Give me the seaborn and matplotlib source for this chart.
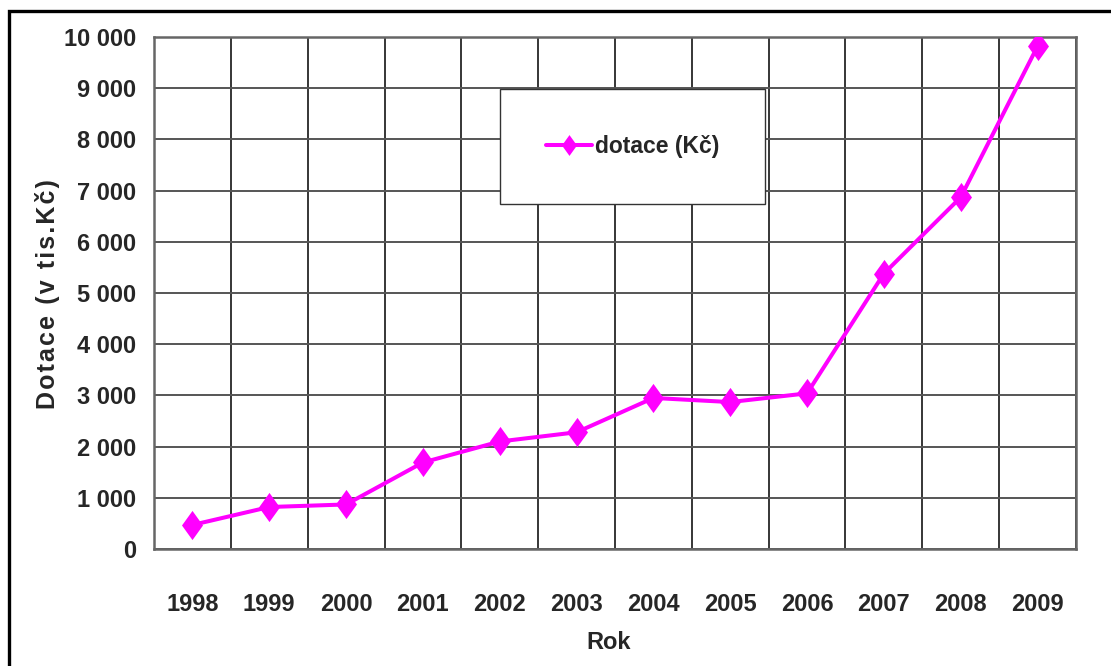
import numpy as np
import pandas as pd
import matplotlib
matplotlib.use("Agg")
import matplotlib.pyplot as plt
import matplotlib.patches as mpatches
from matplotlib.path import Path
import seaborn as sns

# Annual subsidies (thousands CZK)
years = ["1998", "1999", "2000", "2001", "2002", "2003",
         "2004", "2005", "2006", "2007", "2008", "2009"]
dotace = [470, 820, 870, 1690, 2100, 2280, 2950, 2870, 3040, 5380, 6870, 9820]
y_ticks = [0, 1000, 2000, 3000, 4000, 5000, 6000, 7000, 8000, 9000, 10000]
series_label = "dotace (Kč)"
y_title = "Dotace (v tis.Kč)"
x_title = "Rok"

sns.set_theme(style="white")
plt.rcParams["font.family"] = ["Liberation Sans", "DejaVu Sans"]
plt.rcParams["font.weight"] = "bold"

df = pd.DataFrame({"pos": np.arange(len(years)), "rok": years, "dotace": dotace})

fig = plt.figure(figsize=(11.11, 6.66), dpi=100)
ax = fig.add_axes([154 / 1111, 1 - 549 / 666, (1076 - 154) / 1111, (549 - 37) / 666])

# Tall, narrow diamond marker
diamond = Path([(0, 1), (0.72, 0), (0, -1), (-0.72, 0), (0, 1)],
               [Path.MOVETO, Path.LINETO, Path.LINETO, Path.LINETO, Path.CLOSEPOLY])

sns.lineplot(data=df, x="pos", y="dotace", ax=ax, color="#FF00FF", linewidth=2.9,
             marker=diamond, markersize=21, markeredgewidth=0,
             markerfacecolor="#FF00FF", label=series_label, zorder=5)

ax.set_xlim(-0.5, len(years) - 0.5)
ax.set_ylim(0, 10000)

ax.set_xticks(np.arange(len(years)))
ax.set_xticklabels(years)
ax.set_xticks(np.arange(-0.5, len(years), 1), minor=True)
ax.set_yticks(y_ticks)
ax.set_yticklabels([f"{v:,}".replace(",", " ") for v in y_ticks])

ax.tick_params(axis="both", which="both", length=0, labelsize=17)
ax.tick_params(axis="x", pad=32)
ax.tick_params(axis="y", pad=13)
for lab in ax.get_xticklabels() + ax.get_yticklabels():
    lab.set_fontweight("bold")

ax.grid(False)
ax.grid(which="minor", axis="x", color="black", linewidth=1.1)
ax.grid(which="major", axis="y", color="#555555", linewidth=1.4)
ax.set_axisbelow(True)

for side in ["left", "bottom", "top", "right"]:
    ax.spines[side].set_color("#666666")
    ax.spines[side].set_linewidth(1.8)

ax.set_xlabel(x_title, fontsize=17, fontweight="bold", labelpad=4)
ax.xaxis.set_label_coords(0.493, -0.16)
ax.set_ylabel("")
fig.text(48 / 1111, 1 - 294 / 666, "\u200a".join(y_title), rotation=90,
         ha="center", va="center", fontsize=18, fontweight="bold")

leg = ax.legend(loc="upper left", bbox_to_anchor=((500 - 154) / 922, (549 - 89) / 512),
                frameon=True, fancybox=False, fontsize=16.5, handlelength=2.0,
                borderpad=2.0, borderaxespad=0, handletextpad=0.15)
frame = leg.get_frame()
frame.set_edgecolor("#333333")
frame.set_linewidth(1.0)
frame.set_facecolor("white")
frame.set_alpha(1)
for t in leg.get_texts():
    t.set_fontweight("bold")
for h in leg.legend_handles:
    h.set_markersize(15)

# Outer figure frame
fig.patches.append(mpatches.Rectangle((9 / 1111, -0.1), 2, (1 - 11 / 666) + 0.1,
                                      transform=fig.transFigure, fill=False,
                                      edgecolor="black", linewidth=2.4))

fig.savefig("out.png", dpi=100, facecolor="white")
